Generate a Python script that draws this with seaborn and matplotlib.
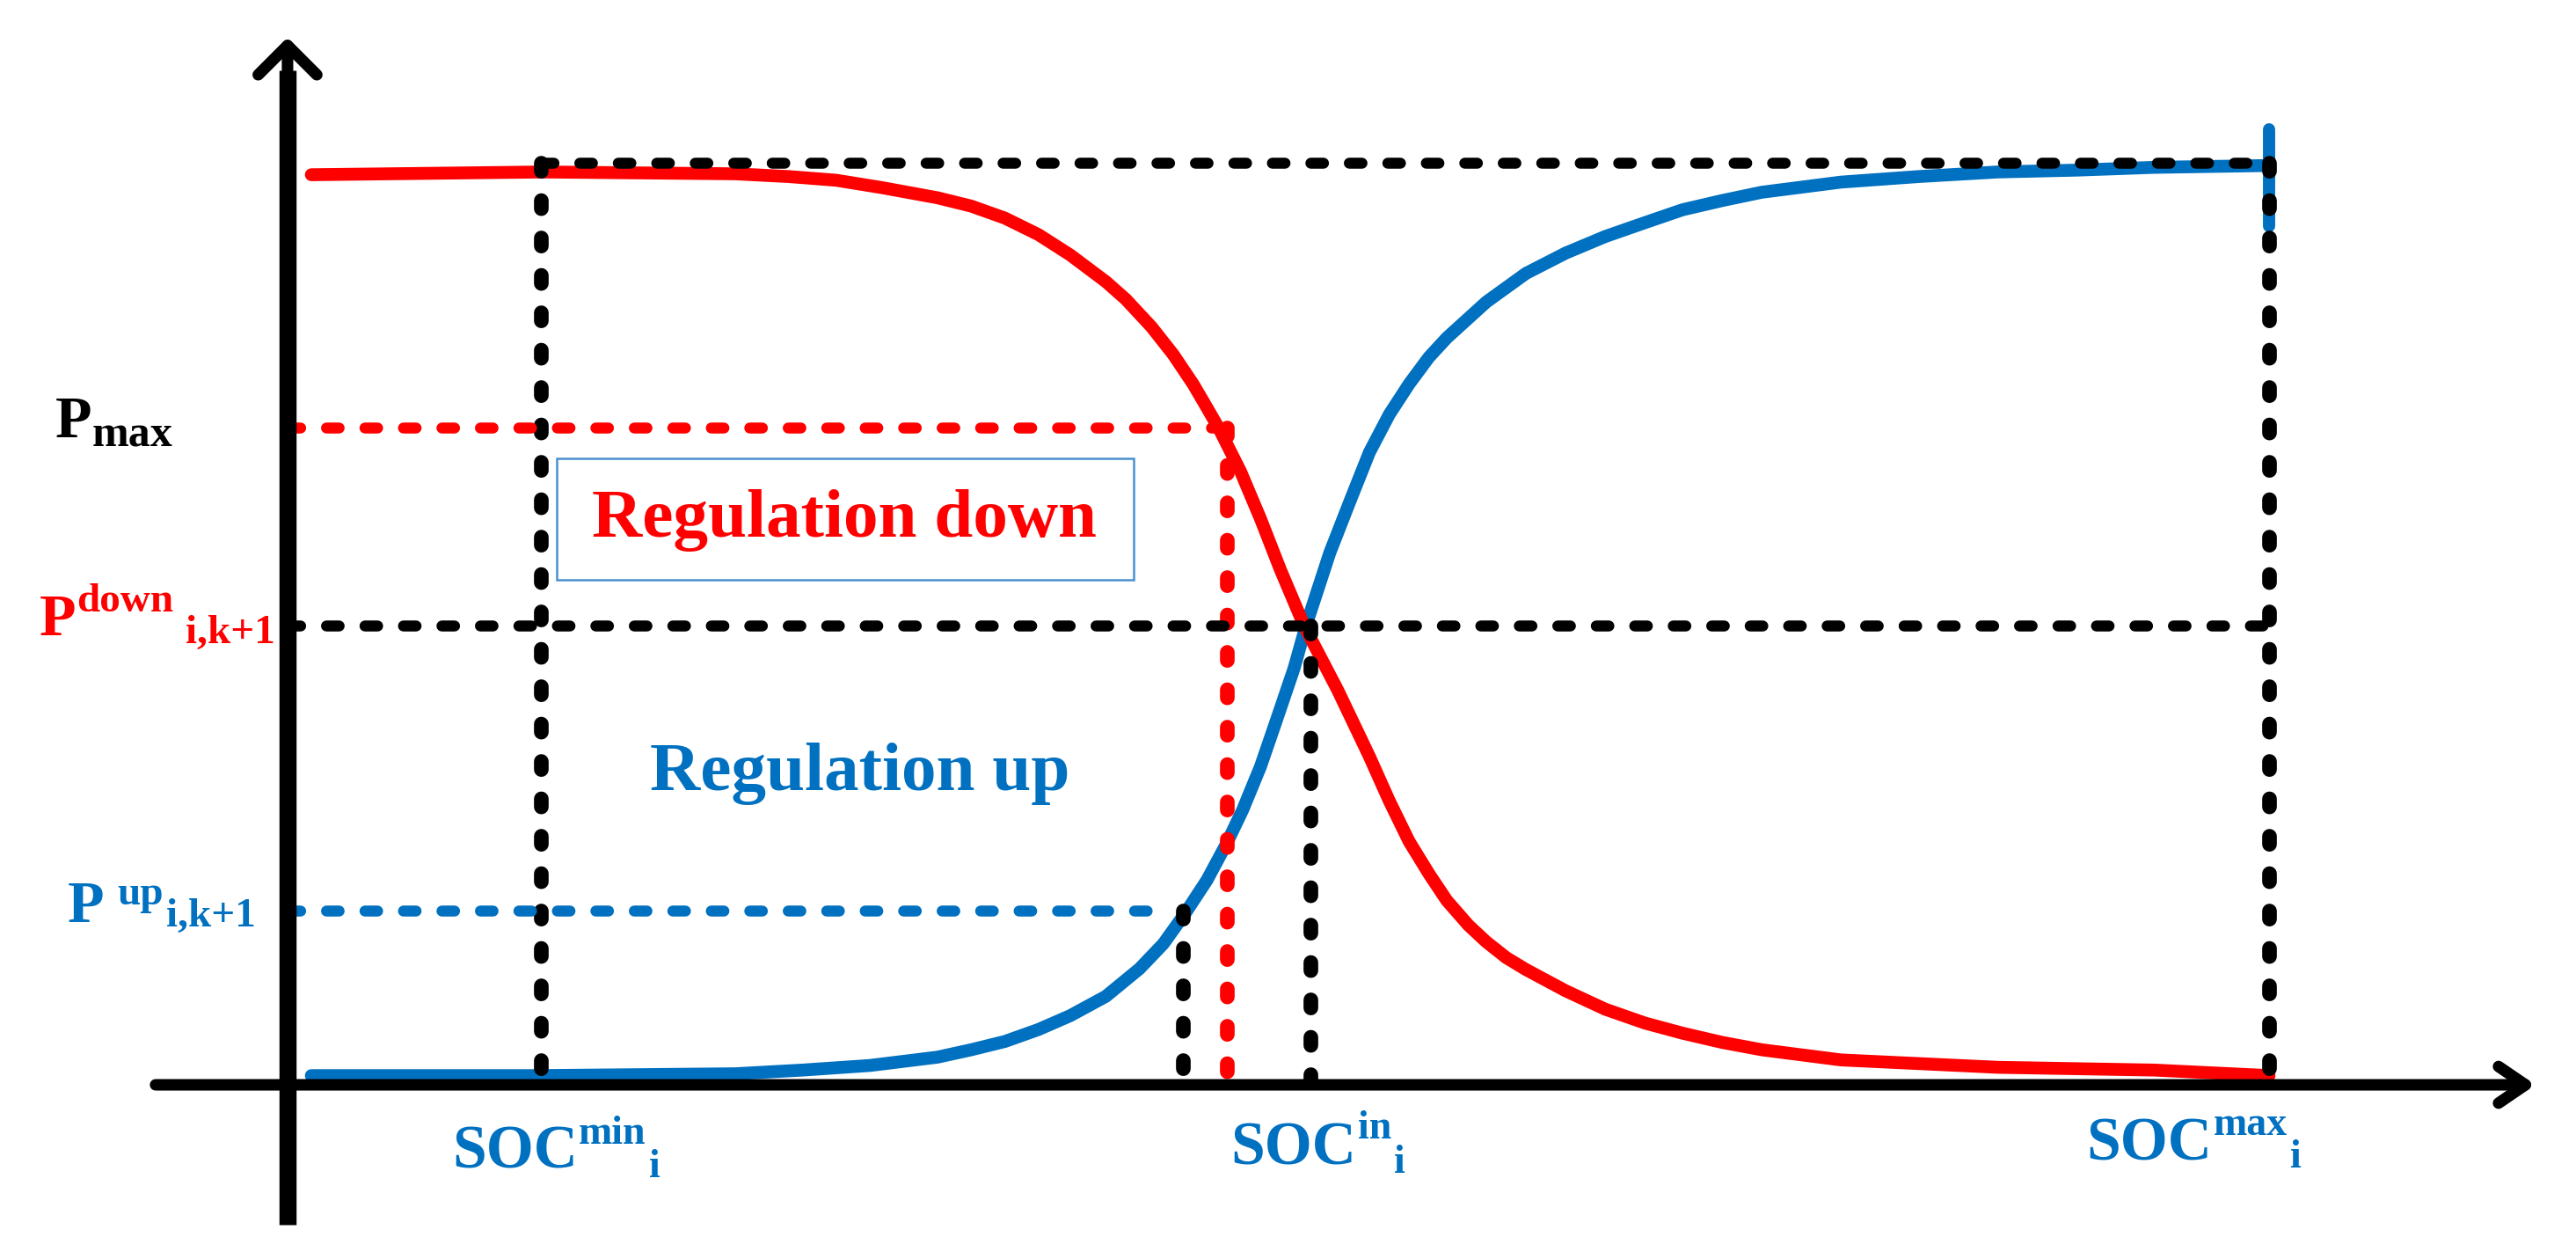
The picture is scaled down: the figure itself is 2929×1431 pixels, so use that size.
import matplotlib.pyplot as plt
import seaborn as sns
from matplotlib.patches import Rectangle

# SOC positions (fraction of SOC max) and power levels (fraction of rated power)
SOC_MIN, SOC_UP, SOC_DOWN, SOC_IN, SOC_MAX = 0.128, 0.452, 0.474, 0.516, 1.0
P_TOP, P_MAX, P_DOWN, P_UP = 1.0, 0.713, 0.498, 0.189

# regulation down curve (red)
down_soc = [0.012, 0.129, 0.226, 0.253, 0.277, 0.300, 0.328, 0.345, 0.362, 0.379,
            0.395, 0.413, 0.423, 0.436, 0.447, 0.457, 0.463, 0.470, 0.481, 0.491,
            0.501, 0.513, 0.530, 0.546, 0.556, 0.566, 0.576, 0.585, 0.596, 0.605,
            0.615, 0.625, 0.645, 0.665, 0.685, 0.704, 0.724, 0.744, 0.784, 0.863,
            0.942, 1.0]
down_p = [0.987, 0.990, 0.988, 0.985, 0.981, 0.973, 0.962, 0.953, 0.940, 0.922,
          0.900, 0.871, 0.852, 0.822, 0.792, 0.760, 0.738, 0.712, 0.665, 0.614,
          0.559, 0.498, 0.428, 0.356, 0.308, 0.264, 0.229, 0.200, 0.173, 0.155,
          0.138, 0.125, 0.102, 0.082, 0.067, 0.056, 0.046, 0.038, 0.027, 0.019,
          0.016, 0.010]

# regulation up curve (blue)
up_soc = [0.012, 0.127, 0.226, 0.260, 0.294, 0.328, 0.345, 0.362, 0.379, 0.395,
          0.413, 0.430, 0.442, 0.453, 0.464, 0.474, 0.482, 0.491, 0.499, 0.508,
          0.514, 0.526, 0.536, 0.546, 0.556, 0.566, 0.576, 0.585, 0.605, 0.625,
          0.645, 0.665, 0.685, 0.704, 0.724, 0.744, 0.784, 0.823, 0.863, 0.903,
          0.942, 1.0]
up_p = [0.010, 0.010, 0.012, 0.016, 0.021, 0.030, 0.038, 0.047, 0.060, 0.075,
        0.096, 0.126, 0.153, 0.186, 0.222, 0.262, 0.298, 0.345, 0.395, 0.452,
        0.498, 0.577, 0.632, 0.686, 0.727, 0.760, 0.789, 0.810, 0.849, 0.880,
        0.902, 0.920, 0.935, 0.949, 0.959, 0.968, 0.979, 0.985, 0.990, 0.992,
        0.995, 0.997]

RED = "#FF0000"
BLUE = "#0070C0"
SERIF = "Liberation Serif"

sns.set_theme(style="white")

fig = plt.figure(figsize=(29.29, 14.31), dpi=100)
ax = fig.add_axes([0, 0, 1, 1])
ax.set_xlim(-0.1451, 1.1549)
ax.set_ylim(-0.1889, 1.1765)
ax.axis("off")

# axes with arrow heads
ax.plot([0, 0], [-0.152, 1.10], color="black", lw=14, solid_capstyle="butt", zorder=5)
ax.annotate("", xy=(0, 1.136), xytext=(0, 1.0),
            arrowprops=dict(arrowstyle="->,head_length=1.2,head_width=1.2", lw=9.4,
                            color="black", shrinkA=0, shrinkB=0, mutation_scale=20,
                            capstyle="round", joinstyle="round"), zorder=5)
ax.annotate("", xy=(1.1345, 0), xytext=(-0.0666, 0),
            arrowprops=dict(arrowstyle="->,head_length=1.1,head_width=0.75", lw=9.4,
                            color="black", shrinkA=0, shrinkB=0, mutation_scale=20,
                            capstyle="round", joinstyle="round"), zorder=5)

# curves
sns.lineplot(x=down_soc, y=down_p, ax=ax, color=RED, linewidth=10.5,
             solid_capstyle="round", solid_joinstyle="round", zorder=3)
sns.lineplot(x=up_soc, y=up_p, ax=ax, color=BLUE, linewidth=10.5,
             solid_capstyle="round", solid_joinstyle="round", zorder=2)
ax.plot([SOC_MAX, SOC_MAX], [0.931, 1.036], color=BLUE, lw=10, solid_capstyle="round", zorder=2)

# dashed guide lines
h_style = dict(lw=9, dashes=(1.15, 2.35), dash_capstyle="round", zorder=4)
v_style = dict(lw=12, dashes=(0.55, 2.0), dash_capstyle="round", zorder=4)
ax.plot([SOC_MIN, SOC_MAX], [P_TOP, P_TOP], color="black", **h_style)
ax.plot([SOC_MIN, SOC_MIN], [P_TOP, 0], color="black", **v_style)
ax.plot([SOC_MAX, SOC_MAX], [P_TOP, 0], color="black", **v_style)
ax.plot([0, SOC_DOWN - 0.004], [P_MAX, P_MAX], color=RED, **h_style)
ax.plot([SOC_DOWN, SOC_DOWN], [P_MAX, 0], color=RED, **v_style)
ax.plot([0, SOC_MAX], [P_DOWN, P_DOWN], color="black", **h_style)
ax.plot([SOC_IN, SOC_IN], [P_DOWN, 0], color="black", **v_style)
ax.plot([0, SOC_UP - 0.009], [P_UP, P_UP], color=BLUE, **h_style)
ax.plot([SOC_UP, SOC_UP], [P_UP, 0], color="black", **v_style)

# region labels
ax.add_patch(Rectangle((0.136, 0.548), 0.291, 0.131, fill=False, ec="#4A90D0", lw=1.8, zorder=4))
ax.text(0.281, 0.612, "Regulation down", color=RED, fontsize=57, family=SERIF,
        weight="bold", ha="center", va="center")
ax.text(0.289, 0.337, "Regulation up", color=BLUE, fontsize=57, family=SERIF,
        weight="bold", ha="center", va="center")


def script_label(x, y, base, sup, sub, color, size, sup_size, rise, drop, gap1=1, gap2=2):
    """Base text followed by a superscript and then a subscript (laid out in a row)."""
    kw = dict(color=color, family=SERIF, weight="bold", ha="left", va="baseline",
              textcoords="offset points")
    t = ax.text(x, y, base, color=color, family=SERIF, weight="bold", fontsize=size,
                ha="left", va="baseline")
    prev = t
    if sup:
        prev = ax.annotate(sup, xy=(1, y), xycoords=(t, "data"), xytext=(gap1, rise),
                           fontsize=sup_size, **kw)
    if sub:
        ax.annotate(sub, xy=(1, y), xycoords=(prev, "data"), xytext=(gap2, -drop),
                    fontsize=sup_size, **kw)


script_label(-0.117, 0.702, "P", None, "max", "black", 49, 36, 0, 7, gap2=0)
script_label(-0.125, 0.488, "P", "down", "i,k+1", RED, 49, 34, 19, 7, gap1=0, gap2=10)
script_label(-0.111, 0.177, "P", "up", "i,k+1", BLUE, 49, 34, 14, 4, gap1=11, gap2=2)
script_label(0.083, -0.090, "SOC", "min", "i", BLUE, 50, 33, 20, 8)
script_label(0.476, -0.086, "SOC", "in", "i", BLUE, 50, 33, 21, 7)
script_label(0.908, -0.082, "SOC", "max", "i", BLUE, 50, 33, 21, 6)

fig.savefig("out.png", dpi=100, facecolor="white")
